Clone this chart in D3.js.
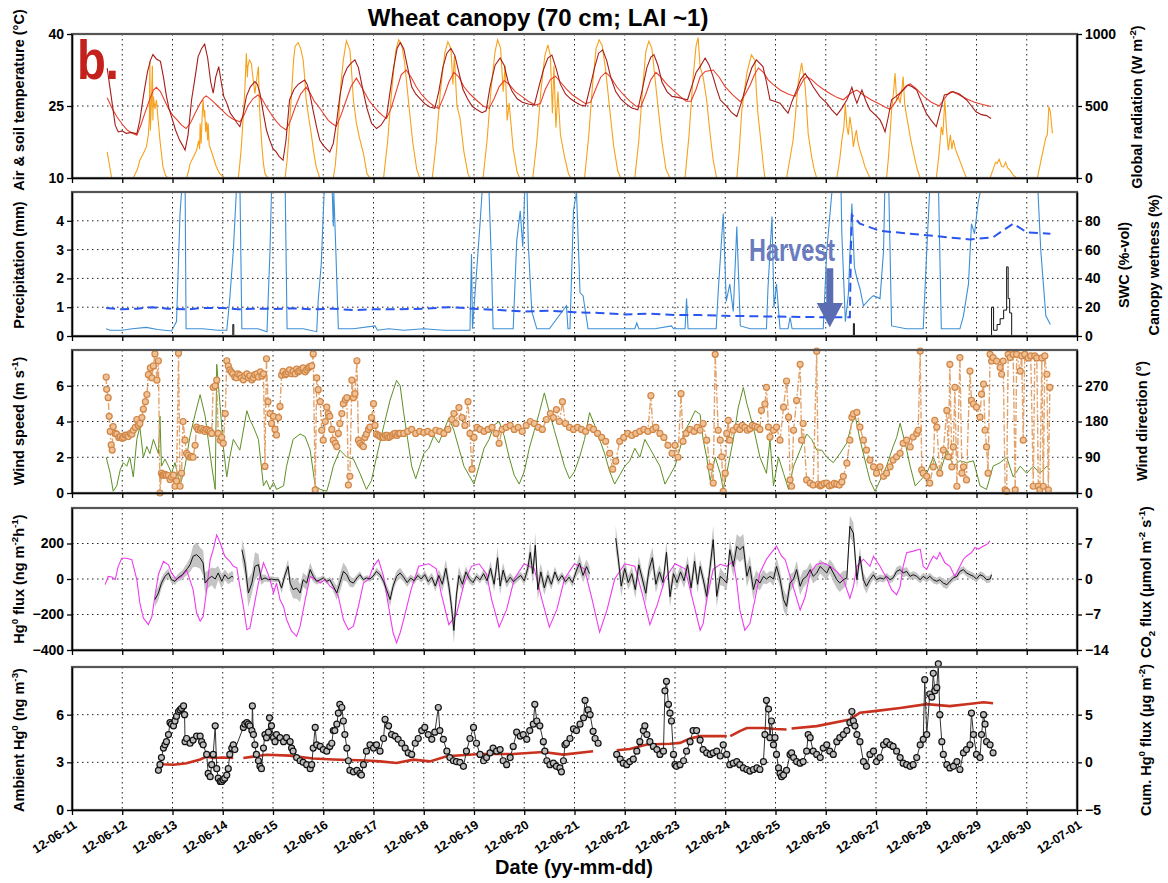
<!DOCTYPE html>
<html>
<head>
<meta charset="utf-8">
<title>Wheat canopy</title>
<script src="https://cdn.jsdelivr.net/npm/d3@7"></script>
<style>
  body { margin: 0; background: #fff; }
  svg text { font-family: "Liberation Sans", Arial, Helvetica, sans-serif; font-weight: bold; }
</style>
</head>
<body>
<svg id="chart" width="1168" height="883"></svg>
<script>
// x values are decimal days of June 2012 (31 = 1 July)
const dayRange = [11, 31];

const airTemp = [[11.70,32.9],[11.78,27],[11.86,21],[11.92,19.6],[12.0,19.8],[12.08,19.3],[12.18,19.5],[12.29,19.2],[12.35,22],[12.42,27],[12.5,32],[12.56,34.5],[12.61,35.7],[12.68,34.8],[12.76,34.3],[12.82,31],[12.88,27],[12.93,24.5],[12.98,22.8],[13.06,20],[13.14,17.9],[13.2,16.8],[13.25,15.8],[13.31,19],[13.38,26.3],[13.45,31],[13.51,35.3],[13.58,37],[13.64,37.9],[13.7,35],[13.76,30],[13.81,27.7],[13.86,31],[13.92,33.2],[13.97,30],[14.02,27],[14.08,25.6],[14.15,23.5],[14.22,22.5],[14.28,21.5],[14.34,20.7],[14.4,23],[14.47,27],[14.55,29],[14.64,30.1],[14.69,29.5],[14.74,27.7],[14.8,24],[14.87,20],[14.93,18],[15.0,16.1],[15.06,15.5],[15.12,14.5],[15.2,13.7],[15.26,18],[15.33,26.3],[15.42,28.5],[15.5,29.5],[15.57,30],[15.63,30.4],[15.68,29.5],[15.73,27.7],[15.8,24],[15.87,20.5],[15.93,17.9],[16.0,16.8],[16.07,16],[16.13,15.4],[16.2,17.2],[16.27,22],[16.33,27],[16.4,31.1],[16.48,33],[16.56,34],[16.63,34.6],[16.7,33],[16.79,28.3],[16.87,24.5],[16.96,21.4],[17.06,20.3],[17.15,21],[17.26,22.8],[17.33,28],[17.4,33],[17.47,37],[17.53,38.2],[17.6,37],[17.68,33],[17.76,29],[17.84,27.5],[17.93,26.5],[18.02,25.5],[18.12,24.8],[18.22,24.5],[18.3,28],[18.38,33],[18.46,36],[18.54,37],[18.62,35.5],[18.7,32],[18.78,28.5],[18.87,26.5],[18.96,25],[19.06,24.2],[19.16,23.6],[19.24,24],[19.32,29],[19.42,33.5],[19.52,35],[19.6,33.5],[19.68,30],[19.76,28],[19.86,26.5],[19.96,25.8],[20.08,25.4],[20.2,25.2],[20.28,28.5],[20.38,32.5],[20.47,35],[20.55,35.6],[20.63,33],[20.72,29.5],[20.82,27.5],[20.92,26.5],[21.02,25.8],[21.12,25.2],[21.22,25],[21.3,28.5],[21.4,33],[21.48,36],[21.56,36.7],[21.64,34.5],[21.72,31],[21.82,28],[21.92,26.5],[22.02,25.5],[22.14,24.6],[22.26,24.2],[22.34,28],[22.44,33],[22.52,35.2],[22.58,35.7],[22.66,33.5],[22.74,30],[22.84,28],[22.94,27],[23.06,26.8],[23.16,26.5],[23.25,26.3],[23.33,29],[23.42,32],[23.5,33.2],[23.6,35],[23.68,33.5],[23.76,31],[23.83,28.5],[23.9,26.3],[24.03,24.9],[24.13,23.6],[24.23,22.8],[24.33,26],[24.43,29.8],[24.53,33],[24.62,34.6],[24.75,33.2],[24.82,30],[24.89,26.3],[24.98,26],[25.09,25.6],[25.17,24.5],[25.25,23.5],[25.33,26],[25.42,28.3],[25.5,30.5],[25.59,31.8],[25.67,30.5],[25.75,29],[25.88,27],[26.02,25.6],[26.12,24.2],[26.22,23.1],[26.32,24.5],[26.42,26.3],[26.47,27.5],[26.52,28.9],[26.57,27],[26.62,25.6],[26.67,27],[26.72,28.3],[26.8,26],[26.88,24.2],[26.98,23.2],[27.08,22.1],[27.13,21],[27.18,19.6],[27.24,22.5],[27.31,26.3],[27.4,27],[27.48,27.7],[27.56,28.5],[27.64,29.4],[27.72,29],[27.81,28.3],[27.9,26],[28.0,23.5],[28.1,22],[28.2,20.7],[28.28,24],[28.36,27.3],[28.44,27.5],[28.53,28],[28.66,27.5],[28.8,26.3],[28.9,25],[28.99,23.8],[29.1,23.2],[29.2,23],[29.29,22.4]];

const soilTemp = [[11.70,26.7],[11.8,24.5],[11.89,22.8],[12.0,21.2],[12.1,20],[12.2,19.3],[12.29,18.9],[12.37,21],[12.45,23.5],[12.55,26.5],[12.62,28.3],[12.68,28.9],[12.76,28],[12.85,26],[12.92,24.5],[13.0,23.1],[13.1,22],[13.18,21],[13.27,20.3],[13.36,21.5],[13.45,23.5],[13.55,25.5],[13.62,26.7],[13.67,27.1],[13.75,26.5],[13.82,25.8],[13.9,25],[14.0,24],[14.1,23],[14.2,22.3],[14.34,21.7],[14.42,23],[14.5,25],[14.6,26.5],[14.7,27.3],[14.78,26.5],[14.86,25],[14.95,23.5],[15.05,22],[15.15,20.8],[15.26,20],[15.35,22],[15.45,25],[15.55,27.5],[15.66,28.9],[15.75,27.5],[15.82,26],[15.9,25],[16.0,23.5],[16.1,22],[16.18,21.3],[16.26,20.8],[16.35,23],[16.45,26],[16.55,29],[16.66,30.8],[16.76,29],[16.84,27.5],[16.92,26],[17.0,25],[17.1,23.8],[17.18,23],[17.26,22.4],[17.35,24.5],[17.45,28],[17.55,31.5],[17.65,32.5],[17.75,31],[17.85,29],[17.95,27.5],[18.08,26],[18.2,25],[18.3,24.5],[18.4,27],[18.5,30],[18.6,32],[18.7,31],[18.8,29],[18.92,27.5],[19.05,26.2],[19.18,25],[19.3,24.5],[19.4,26.5],[19.5,29],[19.6,30.3],[19.7,29.5],[19.82,28],[19.95,27],[20.08,26],[20.22,25.2],[20.32,25.5],[20.42,28.5],[20.52,30.5],[20.62,31.2],[20.72,30],[20.84,28.5],[20.96,27.3],[21.1,26.3],[21.22,25.5],[21.32,25.8],[21.42,28.5],[21.52,31],[21.62,32],[21.72,31],[21.84,29],[21.96,27.5],[22.1,26],[22.22,25],[22.32,24.8],[22.42,27.5],[22.52,30.5],[22.62,32],[22.72,31],[22.84,29.5],[22.96,28.3],[23.1,27],[23.22,26],[23.32,26],[23.42,28.5],[23.5,31.1],[23.6,32.2],[23.76,32.5],[23.88,31],[24.0,29],[24.15,27.3],[24.3,25.9],[24.4,27.5],[24.5,29.5],[24.58,31.5],[24.66,32.9],[24.76,32],[24.85,30.5],[24.95,29.5],[25.1,28.3],[25.25,27.5],[25.39,27],[25.48,29],[25.56,30.5],[25.62,31.1],[25.72,30.5],[25.82,29.5],[25.95,28.5],[26.1,27.5],[26.22,26.8],[26.35,26.3],[26.48,27.5],[26.55,28],[26.62,28.3],[26.75,27.3],[26.9,26.3],[27.05,25.5],[27.18,24.8],[27.28,24.3],[27.4,26],[27.5,28],[27.6,29.2],[27.68,29.6],[27.8,28.6],[27.95,27],[28.1,25.8],[28.26,25],[28.36,26.5],[28.44,27.6],[28.5,28],[28.62,27.5],[28.8,26.5],[28.96,25.8],[29.12,25.3],[29.29,24.9]];

const radiation = [[11.70,181],[11.75,80],[11.79,0],[12.22,0],[12.3,60],[12.35,123],[12.42,170],[12.48,216],[12.52,300],[12.54,420],[12.55,809],[12.56,330],[12.58,520],[12.6,780],[12.61,400],[12.62,565],[12.65,480],[12.68,542],[12.72,380],[12.75,263],[12.81,77],[12.86,20],[12.91,0],
[13.28,0],[13.32,50],[13.35,100],[13.42,150],[13.48,193],[13.52,260],[13.54,200],[13.55,379],[13.57,240],[13.59,430],[13.61,542],[13.63,420],[13.64,472],[13.66,320],[13.68,390],[13.7,260],[13.71,379],[13.73,230],[13.76,200],[13.81,146],[13.87,80],[13.94,30],[14.04,0],
[14.31,0],[14.34,100],[14.37,216],[14.4,380],[14.44,620],[14.47,867],[14.49,700],[14.5,774],[14.53,820],[14.57,795],[14.6,700],[14.64,588],[14.68,700],[14.71,774],[14.73,500],[14.75,380],[14.78,216],[14.81,100],[14.84,30],[14.9,0],
[15.24,0],[15.28,120],[15.31,260],[15.34,425],[15.38,650],[15.41,820],[15.44,913],[15.5,941],[15.55,900],[15.6,820],[15.63,700],[15.66,542],[15.71,420],[15.76,310],[15.81,180],[15.86,77],[15.93,0],
[16.2,0],[16.24,90],[16.27,216],[16.31,420],[16.35,650],[16.4,820],[16.46,953],[16.53,890],[16.56,760],[16.6,542],[16.63,460],[16.66,379],[16.72,280],[16.8,170],[16.87,30],[16.93,0],
[17.2,0],[17.28,250],[17.36,600],[17.44,880],[17.5,960],[17.56,930],[17.62,800],[17.7,520],[17.78,250],[17.86,60],[17.92,0],
[18.17,0],[18.25,250],[18.33,600],[18.42,870],[18.48,946],[18.54,900],[18.58,650],[18.61,850],[18.66,500],[18.72,420],[18.8,180],[18.88,30],[18.92,0],
[19.18,0],[19.26,260],[19.34,620],[19.42,880],[19.47,960],[19.53,900],[19.58,600],[19.62,780],[19.66,400],[19.7,520],[19.78,200],[19.86,40],[19.91,0],
[20.17,0],[20.25,250],[20.33,600],[20.41,850],[20.47,925],[20.52,850],[20.56,450],[20.59,780],[20.63,350],[20.67,600],[20.72,300],[20.8,150],[20.88,30],[20.93,0],
[21.2,0],[21.28,280],[21.36,650],[21.43,900],[21.49,960],[21.55,920],[21.62,750],[21.7,480],[21.78,220],[21.86,50],[21.92,0],
[22.2,0],[22.28,260],[22.36,640],[22.42,880],[22.48,950],[22.54,900],[22.6,700],[22.66,500],[22.74,250],[22.82,60],[22.9,0],
[23.2,0],[23.28,300],[23.36,700],[23.42,920],[23.46,975],[23.5,774],[23.56,700],[23.63,542],[23.7,300],[23.76,123],[23.83,0],
[24.23,0],[24.28,200],[24.33,472],[24.38,600],[24.43,728],[24.48,800],[24.52,855],[24.59,820],[24.62,600],[24.65,449],[24.72,216],[24.76,80],[24.79,0],
[25.22,0],[25.28,120],[25.35,263],[25.4,450],[25.45,658],[25.52,798],[25.55,730],[25.59,635],[25.62,480],[25.65,310],[25.72,146],[25.77,60],[25.82,0],
[26.22,0],[26.28,130],[26.32,263],[26.36,350],[26.39,512],[26.42,356],[26.45,300],[26.48,425],[26.52,330],[26.55,216],[26.58,280],[26.61,333],[26.64,250],[26.68,193],[26.73,140],[26.78,77],[26.88,0],
[27.21,0],[27.25,150],[27.28,300],[27.31,472],[27.35,600],[27.38,728],[27.41,542],[27.45,560],[27.48,519],[27.51,600],[27.54,704],[27.57,520],[27.61,425],[27.65,350],[27.68,286],[27.73,200],[27.78,123],[27.83,50],[27.88,0],
[28.2,0],[28.25,150],[28.3,356],[28.33,300],[28.37,542],[28.4,350],[28.44,193],[28.48,300],[28.51,200],[28.54,263],[28.58,200],[28.64,146],[28.69,100],[28.74,53],[28.8,0],
[29.27,0],[29.33,60],[29.38,110],[29.41,100],[29.45,130],[29.5,80],[29.54,77],[29.58,110],[29.62,70],[29.67,53],[29.73,20],[29.8,0],
[30.21,0],[30.26,80],[30.3,150],[30.34,216],[30.38,280],[30.41,300],[30.44,495],[30.47,460],[30.51,310]];

const canopyWetness = [[11.68,5],[11.75,4],[12.0,4],[12.2,5],[12.48,6],[12.7,4.5],[12.98,3.5],[13.08,10],[13.15,85],[13.18,100],[13.25,110],[13.27,5],[13.6,5],[13.9,4],[14.08,4],[14.14,26],[14.21,59],[14.27,100],[14.34,110],[14.38,5],[14.7,5],[14.88,3],[14.94,59],[14.97,100],[15.0,110],[15.24,110],[15.28,5],[15.6,5],[15.87,3],[15.9,25],[15.96,50],[16.03,110],[16.17,110],[16.2,76],[16.21,100],[16.25,60],[16.3,5],[16.6,5],[17.03,7],[17.08,4],[17.3,5],[17.6,4],[18.0,5],[18.4,4],[18.92,4],[18.95,57],[18.97,5],[19.12,78],[19.18,110],[19.29,110],[19.35,47],[19.38,5],[19.6,5],[19.78,5],[19.85,66],[19.92,87],[19.97,62],[20.02,110],[20.05,110],[20.08,64],[20.15,17],[20.25,5],[20.5,5],[20.84,21],[20.87,5],[20.91,5],[20.98,87],[21.04,100],[21.11,30],[21.17,28],[21.27,5],[21.8,5],[22.2,5],[22.24,9],[22.28,5],[22.6,5],[22.93,7],[22.97,5],[23.2,5],[23.23,26],[23.26,5],[23.82,5],[23.86,31],[23.96,85],[24.02,24],[24.09,36],[24.16,17],[24.23,76],[24.3,7],[24.5,5],[24.82,5],[24.85,33],[24.93,83],[24.97,20],[25.02,36],[25.09,5],[25.25,5],[25.29,13],[25.33,5],[25.7,5],[25.95,5],[26.02,59],[26.12,99],[26.22,110],[26.3,110],[26.32,71],[26.39,10],[26.45,29],[26.52,92],[26.57,48],[26.62,40],[26.68,33],[26.75,21],[26.88,26],[26.95,28],[27.08,26],[27.15,59],[27.18,110],[27.25,110],[27.31,7],[27.6,5],[27.94,5],[28.01,59],[28.08,110],[28.24,110],[28.3,5],[28.67,5],[28.74,14],[28.84,36],[28.9,78],[28.96,71],[29.03,92],[29.13,110],[30.21,110],[30.28,59],[30.38,14],[30.47,8]];

const soilWater = [[11.68,19.5],[12.0,18.5],[12.3,19],[12.6,20],[12.9,19],[13.3,18.5],[13.6,19.5],[14.0,19.5],[14.3,18.5],[14.6,19],[15.0,18.8],[15.4,19.2],[15.8,18.5],[16.2,19],[16.6,18],[17.0,18.5],[17.5,18.5],[18.0,19],[18.5,20],[19.0,19],[19.5,18],[20.0,17],[20.5,17.5],[21.0,16.5],[21.5,16],[22.0,15],[22.5,15.5],[23.0,14.5],[23.5,14.5],[24.0,14],[25.0,13.5],[26.0,13],[26.48,13],[26.5,60],[26.52,84],[26.68,78],[27.08,73],[28.01,70],[28.87,67],[29.33,68.6],[29.73,78],[30.0,72],[30.47,71]];

const precipitation = [[14.18,0],[14.2,0.4],[14.22,0],null,[26.53,0],[26.55,0.43],[26.57,0],null,[29.27,0],[29.3,1.0],[29.34,0.2],[29.41,0.4],[29.47,0.6],[29.54,0.9],[29.6,2.4],[29.63,1.3],[29.66,0.8],[29.7,0]];

const windSpeed = [[11.68,2.0],[11.76,1.1],[11.82,0.1],[11.89,0.4],[11.96,1.3],[12.02,1.7],[12.09,1.5],[12.15,2.0],[12.22,0.9],[12.29,3.0],[12.35,3.7],[12.42,2.0],[12.49,2.6],[12.55,2.2],[12.62,3.0],[12.72,2.2],[12.75,4.3],[12.78,1.5],[12.85,1.9],[12.92,1.5],[12.98,1.1],[13.05,1.7],[13.15,0.4],[13.25,1.5],[13.35,3.2],[13.45,4.4],[13.55,5.5],[13.65,4.3],[13.71,3.0],[13.78,1.5],[13.85,0.2],[13.88,7.2],[13.95,4.8],[14.01,2.6],[14.08,0.9],[14.14,2.0],[14.21,3.0],[14.34,2.4],[14.48,4.6],[14.54,4.1],[14.61,3.7],[14.71,3.0],[14.81,0.4],[14.87,0.7],[14.94,0.2],[15.01,0.6],[15.07,0.2],[15.21,0.4],[15.27,1.5],[15.4,3.0],[15.54,3.3],[15.64,3.15],[15.74,2.4],[15.84,0.4],[15.94,0.2],[16.07,0.1],[16.13,0.7],[16.2,1.5],[16.33,2.4],[16.47,2.0],[16.6,1.9],[16.73,1.1],[16.86,0.2],[16.96,0.7],[17.06,2.0],[17.2,3.7],[17.33,5.2],[17.46,6.3],[17.53,6.0],[17.6,4.5],[17.68,3.0],[17.76,1.5],[17.84,0.8],[17.92,1.5],[18.0,2.2],[18.1,2.5],[18.2,3.2],[18.3,2.8],[18.4,3.5],[18.5,4.2],[18.6,3.5],[18.7,2.5],[18.8,1.5],[18.9,1.0],[19.0,0.5],[19.1,1.5],[19.2,2.5],[19.3,3.0],[19.4,3.8],[19.5,4.0],[19.6,3.2],[19.7,2.0],[19.8,1.0],[19.9,0.5],[20.0,1.2],[20.1,2.5],[20.2,3.5],[20.3,4.5],[20.4,5.6],[20.5,4.5],[20.6,3.5],[20.7,2.5],[20.8,1.5],[20.9,0.8],[21.0,1.2],[21.1,2.0],[21.2,3.0],[21.3,4.5],[21.4,3.8],[21.5,3.0],[21.6,2.2],[21.7,1.2],[21.8,0.5],[21.9,1.0],[22.0,1.5],[22.1,1.8],[22.2,2.5],[22.3,2.0],[22.4,3.0],[22.5,2.5],[22.6,2.0],[22.7,1.5],[22.8,0.5],[22.9,1.0],[23.0,1.5],[23.1,2.5],[23.2,3.5],[23.3,4.0],[23.4,4.6],[23.5,4.4],[23.56,3.0],[23.63,2.0],[23.7,0.7],[23.8,2.0],[23.9,1.1],[23.96,0.2],[24.03,1.1],[24.16,3.0],[24.26,4.8],[24.36,5.9],[24.43,5.0],[24.49,4.4],[24.59,3.3],[24.69,2.0],[24.82,1.1],[24.89,3.0],[24.96,0.4],[25.06,2.0],[25.16,1.1],[25.26,0.2],[25.36,1.5],[25.49,2.4],[25.62,3.3],[25.72,3.0],[25.82,2.4],[25.92,2.4],[26.02,2.0],[26.15,1.7],[26.28,2.2],[26.42,2.8],[26.52,3.9],[26.58,4.4],[26.68,3.0],[26.81,1.5],[26.88,0.7],[26.98,0.1],[27.08,0.7],[27.21,1.5],[27.34,2.6],[27.41,3.1],[27.48,3.9],[27.58,2.8],[27.68,1.5],[27.78,0.4],[27.88,0.7],[28.01,1.1],[28.14,2.0],[28.27,1.1],[28.41,2.4],[28.54,1.5],[28.67,1.8],[28.8,1.7],[28.94,1.8],[29.07,0.4],[29.2,0.2],[29.33,1.5],[29.47,1.7],[29.6,2.0],[29.73,0.9],[29.87,1.5],[30.0,1.1],[30.13,1.5],[30.26,1.1],[30.4,1.5],[30.46,1.3]];

const windDir = [[11.68,292],[11.69,261],[11.72,240],[11.74,193],[11.76,155],[11.78,121],[11.80,108],[11.82,167],[11.86,150],[11.89,148],[11.93,140],[11.96,142],[12.0,138],[12.03,140],[12.06,146],[12.09,145],[12.12,142],[12.16,150],[12.19,148],[12.22,158],[12.26,165],[12.29,185],[12.32,170],[12.35,175],[12.39,190],[12.42,211],[12.46,230],[12.49,248],[12.52,298],[12.56,315],[12.59,290],[12.62,320],[12.65,350],[12.69,284],[12.72,333],[12.75,0],[12.78,50],[12.8,45],[12.82,45],[12.85,47],[12.88,45],[12.92,44],[12.95,34],[12.98,40],[13.02,45],[13.05,17],[13.08,30],[13.12,352],[13.15,17],[13.18,50],[13.21,180],[13.25,133],[13.28,100],[13.31,95],[13.35,90],[13.38,92],[13.41,90],[13.45,120],[13.48,166],[13.51,160],[13.55,158],[13.58,162],[13.62,158],[13.65,155],[13.68,160],[13.72,158],[13.75,155],[13.78,150],[13.81,266],[13.85,270],[13.88,284],[13.91,150],[13.95,133],[13.98,140],[14.01,125],[14.05,200],[14.08,333],[14.11,320],[14.14,310],[14.17,305],[14.2,300],[14.24,292],[14.27,290],[14.3,300],[14.34,297],[14.37,290],[14.41,285],[14.44,295],[14.48,300],[14.51,290],[14.54,295],[14.58,285],[14.61,290],[14.64,298],[14.68,300],[14.71,292],[14.75,305],[14.78,295],[14.81,300],[14.84,67],[14.87,338],[14.9,230],[14.94,200],[14.97,175],[15.01,193],[15.04,160],[15.07,146],[15.11,190],[15.14,218],[15.17,297],[15.2,306],[15.24,298],[15.27,300],[15.3,305],[15.33,310],[15.37,300],[15.4,306],[15.44,300],[15.47,312],[15.5,305],[15.53,308],[15.57,312],[15.6,315],[15.64,305],[15.67,310],[15.7,315],[15.73,318],[15.77,320],[15.8,350],[15.84,8],[15.87,290],[15.9,260],[15.94,230],[15.97,158],[16.0,133],[16.04,180],[16.07,216],[16.1,200],[16.13,193],[16.17,160],[16.2,133],[16.24,125],[16.27,117],[16.3,150],[16.33,175],[16.37,200],[16.4,225],[16.44,235],[16.47,240],[16.5,20],[16.53,42],[16.57,284],[16.6,240],[16.63,250],[16.67,333],[16.7,133],[16.73,125],[16.77,120],[16.8,117],[16.83,140],[16.86,148],[16.9,160],[16.93,166],[16.96,190],[17.0,225],[17.03,170],[17.06,148],[17.1,145],[17.13,142],[17.17,140],[17.2,140],[17.24,145],[17.27,145],[17.3,140],[17.33,142],[17.37,145],[17.4,148],[17.43,150],[17.47,145],[17.5,150],[17.53,150],
[17.6,150],[17.68,155],[17.76,160],[17.84,150],[17.92,155],[18.0,152],[18.08,155],[18.16,150],[18.24,158],[18.32,155],[18.4,150],[18.48,160],[18.56,185],[18.6,200],[18.64,175],[18.7,215],[18.76,190],[18.82,170],[18.88,230],[18.92,150],[18.96,60],[19.0,140],[19.06,165],[19.12,160],[19.2,155],[19.28,160],[19.36,165],[19.44,150],[19.5,125],[19.56,160],[19.64,165],[19.72,170],[19.8,160],[19.88,165],[19.96,155],[20.04,170],[20.12,180],[20.2,175],[20.28,165],[20.36,160],[20.44,185],[20.52,200],[20.58,190],[20.64,210],[20.7,180],[20.76,230],[20.82,175],[20.9,165],[20.98,160],[21.06,165],[21.14,160],[21.22,155],[21.3,165],[21.38,160],[21.46,150],[21.54,140],[21.62,130],[21.7,100],[21.76,60],[21.82,80],[21.9,130],[21.98,140],[22.06,150],[22.14,145],[22.22,150],[22.3,155],[22.38,160],[22.46,155],[22.52,245],[22.56,160],[22.62,165],[22.7,150],[22.78,140],[22.86,120],[22.94,100],[23.0,120],[23.06,90],[23.12,250],[23.16,130],[23.22,150],[23.3,160],[23.38,155],[23.44,165],
[23.5,158],[23.56,175],[23.63,133],[23.7,66],[23.76,25],[23.8,349],[23.86,158],[23.9,133],[23.93,91],[23.96,4],[24.0,50],[24.03,150],[24.06,183],[24.09,133],[24.16,158],[24.23,166],[24.29,160],[24.34,170],[24.39,165],[24.44,158],[24.49,162],[24.54,170],[24.59,168],[24.64,165],[24.69,160],[24.72,208],[24.79,224],[24.82,266],[24.86,166],[24.89,141],[24.96,158],[25.02,166],[25.09,133],[25.16,216],[25.22,282],[25.26,191],[25.29,33],[25.32,17],[25.36,158],[25.42,233],[25.49,324],[25.52,133],[25.55,175],[25.62,33],[25.69,25],[25.75,20],[25.82,357],[25.85,22],[25.89,18],[25.92,20],[25.97,24],[26.02,25],[26.07,18],[26.12,20],[26.17,24],[26.22,22],[26.27,20],[26.32,28],[26.35,42],[26.42,75],[26.48,133],[26.52,191],[26.55,199],[26.62,203],[26.68,166],[26.75,133],[26.81,108],[26.88,83],[26.95,66],[27.01,50],[27.08,66],[27.15,42],[27.21,50],[27.28,66],[27.34,83],[27.41,91],[27.48,100],[27.54,125],[27.61,133],[27.68,116],[27.74,141],[27.81,150],[27.84,158],[27.88,357],[27.91,58],[27.94,50],[28.01,42],[28.07,25],[28.14,66],[28.17,183],[28.21,166],[28.27,50],[28.34,108],[28.41,208],[28.44,91],[28.47,324],[28.51,66],[28.54,116],[28.57,266],[28.61,17],[28.67,341],[28.71,50],[28.74,66],[28.8,33],[28.87,307],[28.9,233],[28.94,224],[29.0,216],[29.07,191],[29.1,249],[29.14,274],[29.17,158],[29.2,116],[29.23,50],[29.27,349],[29.3,332],[29.33,341],[29.4,332],[29.47,316],[29.5,299],[29.53,332],[29.57,8],[29.6,4],[29.63,349],[29.67,341],[29.73,349],[29.77,8],[29.8,349],[29.87,307],[29.9,345],[29.93,133],[29.96,349],[30.03,340],[30.08,345],[30.13,17],[30.16,345],[30.2,340],[30.23,17],[30.26,8],[30.3,340],[30.33,17],[30.36,345],[30.4,299],[30.43,8],[30.46,266]];

// Hg0 flux: [day, flux, uncertainty]
const hgFlux = [[12.65,-116,40],[12.72,-79,40],[12.78,-23,30],[12.85,15,25],[12.92,34,25],[12.98,-4,20],[13.05,-13,20],[13.1,5,20],[13.15,15,25],[13.2,25,25],[13.25,43,30],[13.3,60,35],[13.35,81,40],[13.41,128,60],[13.48,137,70],[13.55,118,60],[13.61,90,70],[13.65,-23,60],[13.71,0,50],[13.78,15,50],[13.85,0,60],[13.91,34,40],[13.98,-13,40],[14.04,24,30],[14.11,0,30],[14.18,15,30],[14.21,10,30],null,
[14.38,165,60],[14.44,90,70],[14.51,-79,80],[14.58,-23,60],[14.64,71,80],[14.71,81,60],[14.77,-4,30],[14.84,6,20],[14.91,-4,15],[14.97,0,15],[15.04,-4,15],[15.11,-4,15],[15.17,-51,30],[15.24,24,30],[15.3,71,40],[15.34,-23,40],[15.4,-60,50],[15.47,-51,60],[15.54,-79,50],[15.6,-4,40],[15.67,-23,40],[15.74,53,40],[15.8,15,30],[15.87,-13,20],[15.94,-4,15],[16.0,6,15],[16.07,-13,15],[16.13,-4,15],[16.2,-41,30],[16.27,-79,40],[16.33,-23,50],[16.4,43,50],[16.47,24,40],[16.53,-13,30],[16.6,-23,25],[16.67,6,20],[16.73,24,20],[16.8,-4,15],[16.86,6,15],[16.93,0,15],[16.99,15,15],[17.06,43,20],[17.13,24,20],[17.2,-13,25],[17.26,-60,30],[17.33,-116,40],[17.39,-41,30],[17.46,15,30],[17.53,34,30],
[17.6,10,25],[17.67,-20,25],[17.74,5,20],[17.81,-10,20],[17.88,20,20],[17.95,0,20],[18.02,25,25],[18.09,-15,25],[18.16,10,25],[18.23,-40,30],[18.3,20,35],[18.37,-30,40],[18.44,60,50],[18.5,-40,50],[18.55,-150,60],[18.6,-290,70],[18.65,-90,60],[18.7,20,50],[18.77,-30,40],[18.84,40,30],[18.91,0,25],[18.98,-20,20],[19.05,15,20],[19.12,-5,20],[19.19,30,25],[19.26,-10,30],[19.33,60,40],[19.4,-30,40],[19.47,120,60],[19.52,-40,50],[19.58,50,40],[19.65,-20,30],[19.72,10,25],[19.79,-15,20],[19.86,5,20],[19.93,20,20],[20.0,-10,25],[20.07,60,40],[20.12,150,70],[20.17,30,60],[20.22,190,70],[20.27,-60,60],[20.33,40,50],[20.4,-50,40],[20.47,20,35],[20.54,-30,30],[20.61,40,30],[20.68,-10,25],[20.75,20,20],[20.82,-15,20],[20.89,10,20],[20.96,-20,25],[21.03,40,30],[21.1,90,50],[21.17,20,40],[21.24,70,40],[21.3,30,40],null,
[21.82,230,70],[21.87,120,60],[21.93,-40,60],[22.0,60,50],[22.07,-20,40],[22.14,30,40],[22.21,-60,50],[22.28,80,50],[22.35,0,40],[22.42,-80,60],[22.48,50,50],[22.55,120,60],[22.62,-30,50],[22.69,40,40],[22.76,-20,40],[22.83,150,60],[22.9,-100,60],[22.97,30,50],[23.04,-20,40],[23.11,40,40],[23.18,-10,40],[23.25,80,50],[23.32,-50,50],[23.39,100,60],[23.45,-30,50],
[23.5,71,40],[23.56,0,40],[23.63,-98,60],[23.7,71,60],[23.76,222,80],[23.83,-98,60],[23.9,15,50],[23.96,0,40],[24.03,-23,40],[24.09,165,60],[24.16,71,60],[24.23,184,70],[24.29,165,70],[24.36,184,70],[24.43,15,60],[24.49,71,60],[24.56,-60,60],[24.62,0,50],[24.69,-23,40],[24.76,15,40],[24.82,0,30],[24.89,15,30],[24.96,0,40],[25.02,71,50],[25.09,0,50],[25.16,-116,60],[25.22,-154,60],[25.29,-23,50],[25.36,0,40],[25.42,53,50],[25.49,-41,50],[25.55,0,50],[25.62,15,40],[25.69,53,40],[25.75,15,40],[25.82,34,40],[25.89,71,40],[25.95,53,40],[26.02,34,40],[26.08,71,40],[26.15,34,50],[26.22,-4,50],[26.28,-23,50],[26.35,-4,50],[26.42,6,40],[26.48,297,60],[26.55,259,60],[26.62,-4,50],[26.68,128,50],[26.75,-4,40],[26.81,-41,40],[26.88,-4,30],[26.95,24,25],[27.01,-4,20],[27.08,6,20],[27.15,0,20],[27.21,15,20],[27.28,-4,20],[27.34,6,20],[27.41,43,25],[27.48,53,25],[27.54,34,25],[27.61,43,25],[27.68,15,20],[27.74,24,20],[27.81,15,20],[27.88,-4,20],[27.94,15,20],[28.01,0,20],[28.07,15,20],[28.14,-4,20],[28.21,-13,20],[28.27,-4,20],[28.34,-23,25],[28.41,-32,25],[28.47,-13,20],[28.54,6,20],[28.61,15,20],[28.67,43,20],[28.74,53,20],[28.8,34,20],[28.87,24,20],[28.94,15,20],[29.0,0,20],[29.07,24,20],[29.14,15,20],[29.2,-4,20],[29.27,0,20],[29.3,24,20]];

const co2Flux = [[11.66,-1.1],[11.72,0.5],[11.79,0.4],[11.86,-0.1],[11.92,2.5],[11.99,4.1],[12.09,4.1],[12.19,3.8],[12.29,-0.1],[12.35,-4.7],[12.42,-7.7],[12.52,-9.0],[12.59,-7.4],[12.65,-3.4],[12.72,0.9],[12.82,3.5],[12.92,2.8],[12.98,1.2],[13.08,-0.1],[13.18,0.5],[13.28,1.8],[13.41,-2.1],[13.48,-6.7],[13.55,-8.3],[13.61,-7.4],[13.68,-2.1],[13.75,3.8],[13.81,5.8],[13.88,8.7],[13.95,7.1],[14.04,4.5],[14.14,3.5],[14.21,2.5],[14.28,2.2],[14.34,-1.4],[14.41,-5.4],[14.48,-10.0],[14.54,-9.7],[14.61,-6.0],[14.71,-0.8],[14.81,3.2],[14.87,1.8],[14.94,-0.1],[15.01,-2.8],[15.07,-0.8],[15.14,-4.1],[15.21,-5.4],[15.27,-8.0],[15.37,-10.3],[15.47,-11.3],[15.54,-9.3],[15.64,-4.1],[15.74,0.5],[15.84,-0.1],[15.94,-0.8],[16.04,-0.1],[16.13,-1.4],[16.23,-2.1],[16.3,-3.4],[16.4,-8.0],[16.5,-10.0],[16.6,-9.3],[16.7,-5.4],[16.8,-0.8],[16.9,-0.1],[17.0,2.5],[17.1,3.8],[17.2,0.5],[17.3,-5.4],[17.39,-10.6],[17.46,-12.6],[17.53,-10.6],[17.6,-8],[17.75,-2],[17.9,2.5],[18.1,3],[18.25,2],[18.35,-3],[18.5,-9],[18.65,-7],[18.8,-1],[18.95,2.5],[19.1,3],[19.25,1],[19.35,-4],[19.5,-9.5],[19.65,-6],[19.8,0],[20.0,3],[20.2,2],[20.35,-4],[20.5,-9.5],[20.65,-6],[20.8,0],[21.0,3],[21.2,2],[21.35,-4],[21.5,-10.5],[21.65,-6],[21.8,0],[22.0,3],[22.2,2.5],[22.35,-3],[22.5,-9],[22.65,-5],[22.8,0],[23.0,3],[23.2,2],[23.35,-4],[23.5,-10.1],[23.56,-8.8],[23.63,-4.1],[23.76,1.9],[23.9,2.9],[24.03,2.5],[24.16,3.5],[24.23,-0.8],[24.29,-6.1],[24.39,-10.1],[24.49,-8.8],[24.59,-4.1],[24.69,1.2],[24.82,3.9],[24.92,5.2],[25.02,6.5],[25.12,4.5],[25.19,3.9],[25.29,0.5],[25.39,-2.8],[25.49,-6.1],[25.59,-3.5],[25.69,1.2],[25.82,2.9],[25.95,3.2],[26.08,2.5],[26.22,1.5],[26.35,-0.1],[26.48,-3.8],[26.55,-1.5],[26.62,2.5],[26.75,3.9],[26.88,2.5],[26.95,4.5],[27.08,2.5],[27.21,0.2],[27.31,-2.1],[27.41,-3.1],[27.48,-1.5],[27.54,2.5],[27.61,5.2],[27.74,5.5],[27.88,5.9],[27.94,2.5],[28.01,1.9],[28.07,3.2],[28.14,4.5],[28.21,3.9],[28.27,5.2],[28.37,3.2],[28.47,2.5],[28.57,0.5],[28.64,1.9],[28.74,3.9],[28.8,4.5],[28.9,5.2],[28.97,6.2],[29.04,5.9],[29.14,6.5],[29.2,6.8],[29.27,7.5]];

const ambientHg = [[12.72,2.5],[12.75,2.85],[12.78,3.3],[12.82,3.9],[12.85,4.1],[12.88,4.3],[12.92,4.75],[12.95,5.5],[12.98,5.4],[13.02,5.3],[13.05,5.6],[13.08,5.9],[13.12,6.2],[13.15,6.3],[13.18,6.4],[13.22,6.55],[13.24,6.0],[13.25,4.3],[13.28,4.5],[13.35,4.2],[13.41,4.4],[13.48,4.65],[13.55,4.65],[13.58,4.3],[13.61,4.1],[13.68,3.5],[13.71,2.3],[13.75,2.1],[13.78,2.85],[13.81,3.5],[13.85,5.3],[13.88,2.6],[13.91,2.0],[13.95,1.8],[13.98,1.8],[14.01,1.9],[14.04,2.0],[14.08,2.2],[14.11,2.6],[14.14,3.5],[14.18,3.9],[14.21,4.1],[14.24,3.8],[14.41,5.2],[14.44,5.4],[14.48,5.5],[14.51,5.4],[14.54,5.3],[14.58,5.0],[14.59,6.55],[14.61,4.75],[14.64,4.1],[14.67,3.5],[14.71,3.1],[14.74,2.75],[14.77,2.6],[14.81,3.9],[14.84,4.75],[14.87,4.55],[14.91,4.9],[14.93,5.8],[14.97,5.3],[15.01,4.55],[15.04,4.3],[15.07,4.75],[15.14,4.55],[15.21,4.3],[15.27,4.55],[15.34,4.3],[15.37,3.9],[15.4,3.7],[15.47,3.3],[15.54,3.1],[15.6,3.0],[15.67,2.85],[15.74,2.6],[15.77,2.85],[15.8,3.9],[15.84,5.2],[15.87,4.1],[15.94,4.0],[16.0,3.8],[16.07,3.7],[16.13,4.0],[16.17,4.2],[16.2,5.0],[16.23,5.0],[16.27,5.4],[16.3,6.1],[16.33,6.65],[16.37,6.45],[16.4,5.6],[16.43,4.75],[16.47,3.9],[16.5,3.1],[16.53,2.5],[16.6,2.4],[16.67,2.5],[16.73,2.3],[16.76,2.2],[16.8,2.85],[16.86,3.7],[16.93,4.1],[17.0,3.9],[17.06,4.1],[17.13,3.7],[17.2,4.5],[17.23,5.7],[17.3,5.3],[17.36,4.75],[17.43,4.65],[17.49,4.45],[17.56,4.2],[17.63,3.9],[17.69,3.6],[17.76,3.5],[17.83,4.2],[17.89,4.5],[17.96,5.0],[18.02,5.2],[18.09,4.75],[18.16,4.45],[18.22,4.9],[18.29,6.45],[18.32,5.0],[18.39,4.45],[18.46,3.7],[18.52,3.3],[18.59,3.1],[18.65,3.05],[18.72,3.0],[18.79,2.75],[18.85,3.7],[18.92,4.5],[18.99,5.2],[19.05,4.2],[19.12,3.5],[19.19,3.1],[19.25,3.3],[19.32,3.6],[19.38,3.9],[19.45,3.7],[19.52,3.8],[19.58,3.1],[19.65,2.85],[19.72,3.3],[19.78,4.0],[19.85,4.9],[19.92,4.65],[19.98,4.75],[20.05,4.45],[20.11,5.0],[20.18,5.4],[20.21,6.65],[20.25,5.6],[20.31,5.3],[20.38,4.3],[20.41,3.7],[20.45,3.1],[20.51,2.85],[20.58,2.95],[20.64,2.75],[20.71,2.65],[20.74,2.4],[20.78,3.1],[20.81,4.1],[20.84,4.2],[20.91,4.5],[20.98,5.1],[21.04,5.0],[21.11,5.4],[21.18,5.8],[21.21,6.9],[21.27,6.3],[21.31,6.0],[21.37,4.95],[21.41,4.5],[21.47,4.2],null,
[21.84,3.5],[21.91,3.2],[21.97,2.95],[22.04,2.85],[22.1,3.05],[22.17,3.2],[22.24,3.7],[22.3,4.3],[22.37,5.0],[22.4,5.3],[22.44,4.75],[22.5,4.3],[22.57,4.0],[22.64,3.8],[22.7,3.5],[22.77,3.7],[22.8,7.5],[22.83,8.1],[22.87,6.65],[22.9,6.1],[22.93,5.6],[22.97,3.5],[23.0,2.85],[23.03,2.75],[23.1,2.85],[23.17,3.1],[23.23,3.7],[23.3,4.3],[23.36,5.0],[23.43,5.0],[23.5,4.4],[23.56,3.8],[23.63,3.6],[23.7,3.5],[23.76,3.6],[23.83,3.7],[23.9,3.4],[23.96,4.1],[24.03,3.5],[24.09,2.85],[24.16,2.95],[24.23,3.05],[24.29,2.85],[24.36,2.65],[24.43,2.55],[24.49,2.45],[24.56,2.55],[24.63,2.65],[24.69,2.55],[24.76,3.05],[24.79,4.75],[24.82,6.9],[24.86,6.35],[24.89,4.55],[24.92,5.6],[24.96,4.1],[24.99,4.55],[25.02,3.5],[25.06,2.65],[25.09,2.3],[25.12,2.1],[25.16,2.2],[25.22,2.5],[25.29,3.5],[25.32,3.6],[25.36,3.3],[25.42,3.05],[25.49,2.95],[25.55,3.05],[25.62,3.7],[25.65,4.75],[25.69,4.55],[25.75,3.7],[25.82,3.5],[25.89,3.3],[25.95,3.9],[26.02,4.1],[26.08,3.7],[26.15,3.5],[26.22,4.3],[26.28,4.55],[26.35,4.75],[26.42,5.0],[26.48,5.5],[26.52,6.2],[26.55,5.6],[26.58,5.3],[26.62,4.75],[26.68,4.3],[26.75,3.05],[26.81,2.75],[26.88,3.5],[26.95,3.7],[27.01,3.05],[27.08,3.3],[27.15,4.1],[27.21,4.3],[27.28,4.1],[27.34,4.0],[27.41,3.7],[27.48,3.3],[27.54,2.95],[27.61,2.85],[27.68,2.75],[27.74,2.85],[27.81,3.3],[27.88,4.1],[27.94,4.45],[27.97,8.2],[28.01,4.75],[28.07,7.3],[28.11,7.1],[28.14,8.6],[28.17,7.5],[28.21,7.7],[28.24,9.2],[28.27,6.0],[28.31,4.3],[28.34,3.5],[28.41,2.85],[28.47,2.65],[28.54,2.75],[28.61,3.05],[28.67,2.55],[28.74,3.6],[28.8,3.8],[28.87,4.1],[28.9,6.1],[28.94,4.75],[29.0,3.5],[29.07,3.3],[29.1,4.75],[29.14,6.0],[29.17,5.4],[29.2,4.3],[29.27,4.1],[29.33,3.6]];

const cumHgFlux = [[12.72,0],[12.82,-0.2],[13.02,-0.25],[13.28,-0.1],[13.55,0.3],[13.68,0.6],[13.81,0.45],[14.0,0.5],[14.21,0.45],null,[14.41,0.45],[14.61,0.6],[14.87,0.8],[15.34,0.7],[15.4,0.65],[15.8,0.4],[16.2,0.3],[16.86,0.2],[17.13,0.1],[17.46,-0.07],[17.79,0.28],[18.12,0.1],[18.46,0.63],[19.12,0.88],[19.78,0.88],[20.38,1.09],[20.78,0.81],[21.37,1.16],null,[21.84,1.27],[22.1,1.4],[22.44,1.87],[22.9,1.95],[23.1,2.04],[23.3,2.5],[23.5,2.75],[24.03,2.75],null,[24.1,2.75],[24.3,3.3],[24.43,3.6],[24.76,3.6],[25.0,3.5],[25.22,3.45],null,[25.32,3.55],[25.82,3.8],[26.48,4.5],[26.68,5.2],[27.01,5.4],[27.48,5.7],[28.01,6.1],[28.47,5.9],[28.8,6.1],[29.14,6.3],[29.33,6.2]];

const harvestDay = 26.08;

// ---------- layout ----------
const X0 = 72, X1 = 1077;
const t0 = Date.UTC(2012, 5, 1);
const toDate = d => new Date(t0 + (d - 1) * 864e5);
const x = d3.scaleUtc().domain(dayRange.map(toDate)).range([X0, X1]);
const days = d3.utcDay.range(toDate(dayRange[0]), toDate(dayRange[1] + 0.5));
const fmt = d3.utcFormat("%y-%m-%d");

const svg = d3.select("#chart");

const panels = [
  { top: 34,  h: 144, yl: [10, 40],    ylt: [10, 25, 40],           yr: [0, 1000], yrt: [0, 500, 1000],        grid: [25] },
  { top: 192, h: 144, yl: [0, 5],      ylt: [0, 1, 2, 3, 4],        yr: [0, 100],  yrt: [0, 20, 40, 60, 80],   grid: [1, 2, 3, 4] },
  { top: 350, h: 143, yl: [0, 8],      ylt: [0, 2, 4, 6],           yr: [0, 360],  yrt: [0, 90, 180, 270],     grid: [2, 4, 6] },
  { top: 508, h: 142, yl: [-400, 400], ylt: [-400, -200, 0, 200],   yr: [-14, 14], yrt: [-14, -7, 0, 7],       grid: [-200, 0, 200] },
  { top: 667, h: 143, yl: [0, 9],      ylt: [0, 3, 6],              yr: [-5, 10],  yrt: [-5, 0, 5],            grid: [3, 6] }
];

panels.forEach((p, i) => {
  p.bottom = p.top + p.h;
  p.yL = d3.scaleLinear().domain(p.yl).range([p.bottom, p.top]);
  p.yR = d3.scaleLinear().domain(p.yr).range([p.bottom, p.top]);
  p.clip = "clip" + i;
  svg.append("clipPath").attr("id", p.clip)
    .append("rect").attr("x", X0).attr("y", p.top).attr("width", X1 - X0).attr("height", p.h);
  p.g = svg.append("g");
  p.g.append("rect").attr("x", X0).attr("y", p.top).attr("width", X1 - X0).attr("height", p.h).attr("fill", "#fff");
  // dotted grid
  p.g.append("g").selectAll("line").data(days.slice(1, -1)).join("line")
    .attr("x1", d => x(d)).attr("x2", d => x(d)).attr("y1", p.top).attr("y2", p.bottom)
    .attr("stroke", "#222").attr("stroke-width", 1).attr("stroke-dasharray", "1.5,3.5");
  p.g.append("g").selectAll("line").data(p.grid).join("line")
    .attr("x1", X0).attr("x2", X1).attr("y1", d => p.yL(d)).attr("y2", d => p.yL(d))
    .attr("stroke", "#222").attr("stroke-width", 1).attr("stroke-dasharray", "1.5,3.5");
  p.data = p.g.append("g").attr("clip-path", `url(#${p.clip})`);
});

const lineOf = (y, curve) => d3.line().defined(d => d)
  .x(d => x(toDate(d[0]))).y(d => y(d[1])).curve(curve || d3.curveLinear);

// panel 1: radiation, soil and air temperature
const [p1, p2, p3, p4, p5] = panels;
p1.data.append("path").datum(radiation).attr("d", lineOf(p1.yR))
  .attr("fill", "none").attr("stroke", "#f7a11a").attr("stroke-width", 1.1);
p1.data.append("path").datum(soilTemp).attr("d", lineOf(p1.yL))
  .attr("fill", "none").attr("stroke", "#e8402e").attr("stroke-width", 1.1);
p1.data.append("path").datum(airTemp).attr("d", lineOf(p1.yL))
  .attr("fill", "none").attr("stroke", "#a51d18").attr("stroke-width", 1.1);

// panel 2: canopy wetness, SWC, precipitation
p2.data.append("path").datum(canopyWetness).attr("d", lineOf(p2.yR))
  .attr("fill", "none").attr("stroke", "#3d8fd6").attr("stroke-width", 1.1);
p2.data.append("path").datum(soilWater).attr("d", lineOf(p2.yR))
  .attr("fill", "none").attr("stroke", "#2a55ee").attr("stroke-width", 2).attr("stroke-dasharray", "9,5");
p2.data.append("path").datum(precipitation).attr("d", lineOf(p2.yL, d3.curveStepAfter))
  .attr("fill", "none").attr("stroke", "#111").attr("stroke-width", 1);

// panel 3: wind speed and direction
p3.data.append("path").datum(windSpeed).attr("d", lineOf(p3.yL))
  .attr("fill", "none").attr("stroke", "#5e8f24").attr("stroke-width", 1);
p3.data.append("path").datum(windDir).attr("d", lineOf(p3.yR))
  .attr("fill", "none").attr("stroke", "#e2a36c").attr("stroke-width", 1.4).attr("stroke-dasharray", "7,2,2,2");
p3.g.append("g").selectAll("circle").data(windDir).join("circle")
  .attr("cx", d => x(toDate(d[0]))).attr("cy", d => p3.yR(d[1])).attr("r", 3)
  .attr("fill", "#efc195").attr("stroke", "#d18646").attr("stroke-width", 1.2);

// panel 4: Hg0 flux band + line, CO2 flux
p4.data.append("path").datum(hgFlux)
  .attr("d", d3.area().defined(d => d).x(d => x(toDate(d[0])))
    .y0(d => p4.yL(d[1] - d[2])).y1(d => p4.yL(d[1] + d[2])))
  .attr("fill", "#c4c4c4");
p4.data.append("path").datum(co2Flux).attr("d", lineOf(p4.yR))
  .attr("fill", "none").attr("stroke", "#ee3cee").attr("stroke-width", 1.1);
p4.data.append("path").datum(hgFlux).attr("d", lineOf(p4.yL))
  .attr("fill", "none").attr("stroke", "#111").attr("stroke-width", 1);

// panel 5: ambient Hg0 and cumulative flux
p5.g.append("path").datum(ambientHg).attr("d", lineOf(p5.yL))
  .attr("fill", "none").attr("stroke", "#333").attr("stroke-width", 1);
p5.g.append("g").selectAll("circle").data(ambientHg.filter(d => d)).join("circle")
  .attr("cx", d => x(toDate(d[0]))).attr("cy", d => p5.yL(d[1])).attr("r", 3)
  .attr("fill", "#bdbdbd").attr("stroke", "#111").attr("stroke-width", 1.2);
p5.data.append("path").datum(cumHgFlux).attr("d", lineOf(p5.yR))
  .attr("fill", "none").attr("stroke", "#c8321e").attr("stroke-width", 2.6);

// ---------- frames and axes ----------
function styleAxis(g) {
  g.attr("font-size", null).attr("font-family", null);
  g.select(".domain").attr("stroke", "#000").attr("stroke-width", 1.5);
  g.selectAll(".tick line").attr("stroke", "#000").attr("stroke-width", 1.3);
  g.selectAll("text").attr("font-size", 14).attr("fill", "#000");
}
const intFmt = d3.format("d");

panels.forEach((p, i) => {
  p.g.append("rect").attr("x", X0).attr("y", p.top).attr("width", X1 - X0).attr("height", p.h)
    .attr("fill", "none").attr("stroke", "#555").attr("stroke-width", 2.2);
  p.g.append("g").attr("transform", `translate(${X0},0)`)
    .call(d3.axisLeft(p.yL).tickValues(p.ylt).tickFormat(intFmt).tickSize(5).tickSizeOuter(0).tickPadding(3))
    .call(styleAxis);
  p.g.append("g").attr("transform", `translate(${X1},0)`)
    .call(d3.axisRight(p.yR).tickValues(p.yrt).tickFormat(intFmt).tickSize(5).tickSizeOuter(0).tickPadding(3))
    .call(styleAxis);
  const bx = p.g.append("g").attr("transform", `translate(0,${p.bottom})`)
    .call(d3.axisBottom(x).tickValues(days).tickSize(5).tickSizeOuter(0)
      .tickFormat(i === panels.length - 1 ? fmt : ""))
    .call(styleAxis);
  if (i === panels.length - 1) {
    bx.selectAll("text").attr("x", 0).attr("y", 0).attr("dy", 0)
      .attr("text-anchor", "end").attr("font-size", 12.5)
      .attr("transform", "translate(5,17) rotate(-33)");
  }
});

// ---------- titles ----------
function rich(sel, parts, fs) {
  let off = 0;
  parts.forEach(p => {
    const [s, k] = typeof p === "string" ? [p, "n"] : p;
    const target = k === "sup" ? -0.42 * fs : k === "sub" ? 0.28 * fs : 0;
    const t = sel.append("tspan").text(s).attr("dy", target - off);
    if (k !== "n") t.attr("font-size", fs * 0.68);
    off = target;
  });
}

const axisTitles = [
  { x: 24, y: 100, parts: ["Air & soil temperature (°C)"] },
  { x: 24, y: 265, parts: ["Precipitation (mm)"] },
  { x: 24, y: 421, parts: ["Wind speed (m s", ["-1", "sup"], ")"] },
  { x: 24, y: 579, parts: ["Hg", ["0", "sup"], " flux (ng m", ["-2", "sup"], "h", ["-1", "sup"], ")"] },
  { x: 24, y: 740, parts: ["Ambient Hg", ["0", "sup"], " (ng m", ["-3", "sup"], ")"] },
  { x: 1142, y: 107, parts: ["Global radiation (W m", ["-2", "sup"], ")"] },
  { x: 1129, y: 265, parts: ["SWC (%-vol)"] },
  { x: 1159, y: 265, parts: ["Canopy wetness (%)"] },
  { x: 1147, y: 421, parts: ["Wind direction (°)"] },
  { x: 1151, y: 582, parts: ["CO", ["2", "sub"], " flux (μmol m", ["-2", "sup"], " s", ["-1", "sup"], ")"] },
  { x: 1151, y: 740, parts: ["Cum. Hg", ["0", "sup"], " flux (μg m", ["-2", "sup"], ")"] }
];
axisTitles.forEach(t => {
  const el = svg.append("text").attr("transform", `translate(${t.x},${t.y}) rotate(-90)`)
    .attr("text-anchor", "middle").attr("font-size", 14.5).attr("fill", "#000");
  rich(el, t.parts, 14.5);
});

svg.append("text").attr("x", 538).attr("y", 26).attr("text-anchor", "middle")
  .attr("font-size", 24).attr("fill", "#000").text("Wheat canopy (70 cm; LAI ~1)");
svg.append("text").attr("x", 574).attr("y", 874).attr("text-anchor", "middle")
  .attr("font-size", 20).attr("fill", "#000").text("Date (yy-mm-dd)");
svg.append("text").attr("x", 77).attr("y", 79).attr("font-size", 56).attr("fill", "#c4201c")
  .attr("textLength", 42).attr("lengthAdjust", "spacingAndGlyphs").text("b.");

// harvest annotation
const hx = x(toDate(harvestDay));
svg.append("text").attr("x", x(toDate(25.33))).attr("y", p2.yR(52)).attr("text-anchor", "middle")
  .attr("font-size", 31).attr("fill", "#6a7cbf").attr("textLength", 86)
  .attr("lengthAdjust", "spacingAndGlyphs").text("Harvest");
const sTop = p2.yR(47), hBase = p2.yR(23), tip = p2.yR(6);
svg.append("path").attr("fill", "#5a6cb2")
  .attr("d", `M${hx - 3.5},${sTop}H${hx + 3.5}V${hBase}H${hx + 13}L${hx},${tip}L${hx - 13},${hBase}H${hx - 3.5}Z`);
</script>
</body>
</html>
